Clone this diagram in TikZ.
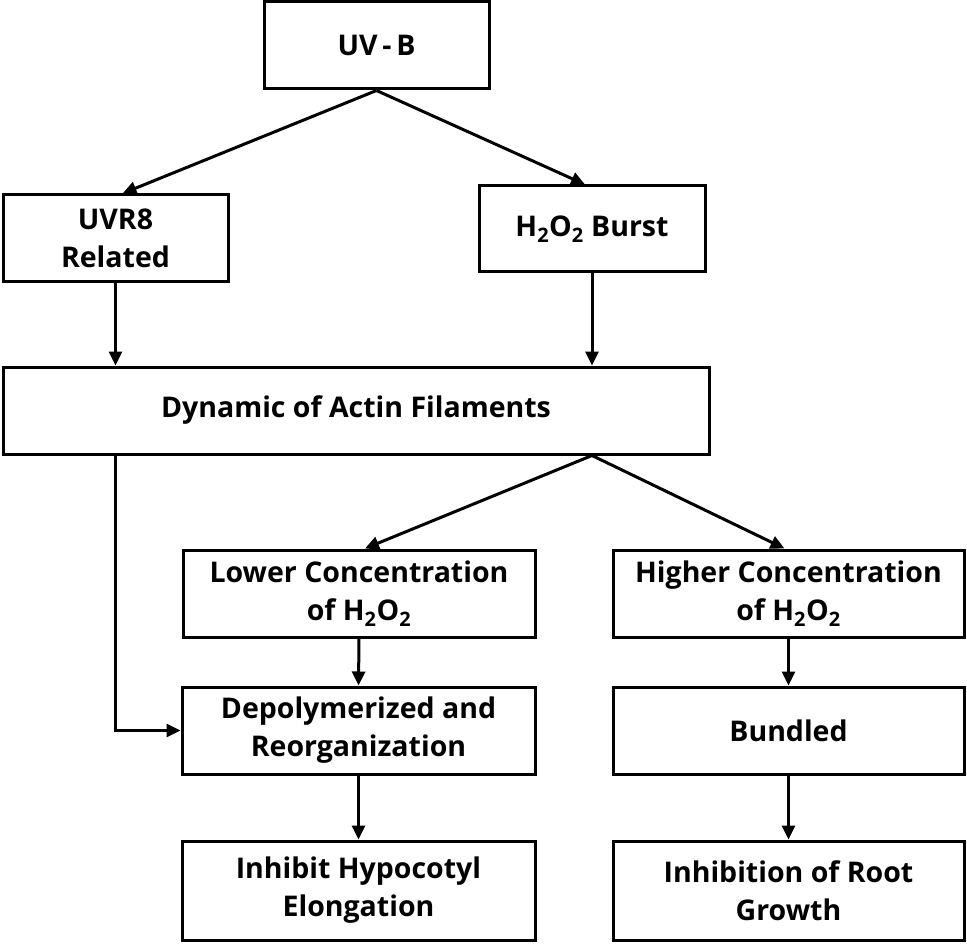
\documentclass[tikz,border=0pt]{standalone}
\usepackage{fontspec}
\setmainfont{Open Sans}
\usetikzlibrary{arrows.meta,calc}
\begin{document}
\begin{tikzpicture}[x=1pt,y=-1pt,
  box/.style={draw=black,line width=3pt,rectangle,inner sep=0pt,align=center,
    font=\fontsize{28.5}{38}\selectfont\bfseries,text=black},
  arr/.style={line width=3pt,-{Triangle[length=14pt,width=13pt]}},
  ln/.style={line width=3pt}]
\useasboundingbox[fill=white] (0,0) rectangle (967,944);
\node[box,minimum width=225pt,minimum height=87pt] (uvb) at (376.5,45.5) {UV\,-\,B};
\node[box,minimum width=225pt,minimum height=87pt] (uvr) at (115.5,238.5) {UVR8\\Related};
\node[box,minimum width=226pt,minimum height=86pt] (h2o) at (592,229) {H\textsubscript{2}O\textsubscript{2} Burst};
\node[box,minimum width=706pt,minimum height=87pt] (dyn) at (356,410.5) {Dynamic of Actin Filaments};
\node[box,minimum width=352pt,minimum height=87pt] (low) at (359,593.5) {Lower Concentration\\of H\textsubscript{2}O\textsubscript{2}};
\node[box,minimum width=351pt,minimum height=87pt] (high) at (788.5,593.5) {Higher Concentration\\of H\textsubscript{2}O\textsubscript{2}};
\node[box,minimum width=353pt,minimum height=87pt] (dep) at (358.5,730.5) {Depolymerized and\\Reorganization};
\node[box,minimum width=351pt,minimum height=87pt] (bun) at (788.5,730.5) {Bundled};
\node[box,minimum width=353pt,minimum height=99pt] (inh) at (358.5,890.5) {Inhibit Hypocotyl\\Elongation};
\node[box,minimum width=351pt,minimum height=99pt] (root) at (788.5,890.5) {Inhibition of Root\\Growth};
\coordinate (split) at (h2o.south |- dyn.south);
\draw[arr] (uvb.south) -- ([xshift=7pt]uvr.north);
\draw[arr] (uvb.south) -- ([xshift=-7pt]h2o.north);
\draw[arr] (uvr.south) -- (uvr.south |- dyn.north);
\draw[arr] (h2o.south) -- (h2o.south |- dyn.north);
\draw[arr] (split) -- ([xshift=6pt]low.north);
\draw[arr] (split) -- ([xshift=-4pt]high.north);
\draw[arr] (uvr.south |- dyn.south) -- (uvr.south |- dep.west) -- (dep.west);
\draw[arr] (low.south) -- (dep.north);
\draw[arr] (high.south) -- (bun.north);
\draw[arr] (dep.south) -- (inh.north);
\draw[arr] (bun.south) -- (root.north);
\end{tikzpicture}
\end{document}
